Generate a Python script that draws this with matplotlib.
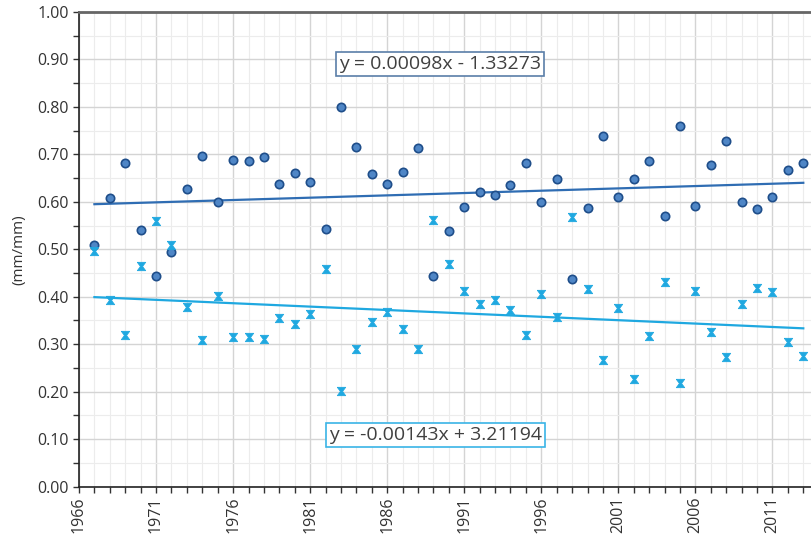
import numpy as np
import matplotlib
matplotlib.use('Agg')
import matplotlib.pyplot as plt
from matplotlib.ticker import MultipleLocator, FixedLocator, FormatStrFormatter

plt.rcParams['font.family'] = ['Open Sans', 'DejaVu Sans']

years = np.arange(1967, 2014)
# circles (dark blue series)
circle_vals = [0.508, 0.607, 0.681, 0.540, 0.443, 0.495, 0.626, 0.697, 0.600, 0.689,
               0.686, 0.694, 0.637, 0.660, 0.642, 0.543, 0.799, 0.716, 0.658, 0.637,
               0.663, 0.713, 0.443, 0.538, 0.590, 0.621, 0.614, 0.635, 0.682, 0.600,
               0.647, 0.438, 0.587, 0.739, 0.610, 0.647, 0.687, 0.571, 0.760, 0.592,
               0.677, 0.728, 0.600, 0.585, 0.610, 0.666, 0.681]
# hourglass markers (light blue series)
cross_vals = [0.497, 0.393, 0.320, 0.464, 0.559, 0.509, 0.378, 0.308, 0.402, 0.315,
              0.315, 0.311, 0.355, 0.342, 0.363, 0.459, 0.202, 0.289, 0.347, 0.367,
              0.332, 0.289, 0.561, 0.468, 0.412, 0.384, 0.392, 0.371, 0.320, 0.405,
              0.358, 0.568, 0.416, 0.266, 0.376, 0.227, 0.318, 0.431, 0.219, 0.412,
              0.326, 0.273, 0.384, 0.418, 0.410, 0.305, 0.276]

# labelled x ticks every 5 years from 1966
year_ticks = list(range(1966, 2014, 5))

# trend line coefficients as printed on the chart
trend1 = (0.00098, -1.33273)
trend2 = (-0.00143, 3.21194)
label1 = 'y = 0.00098x - 1.33273'
label2 = 'y = -0.00143x + 3.21194'

dark_blue = '#2f6db3'
light_blue = '#1fa8e0'

# hourglass shaped marker like the excel "x"
hourglass = [(-1, 1), (1, 1), (0.25, 0), (1, -1), (-1, -1), (-0.25, 0), (-1, 1)]

fig = plt.figure(figsize=(8.11, 5.37), dpi=100)
ax = fig.add_axes([0.0974, 0.094, 0.9026, 0.8837])

ax.set_xlim(1966, 2013.5)
ax.set_ylim(0, 1.0)

ax.xaxis.set_major_locator(FixedLocator(year_ticks))
ax.xaxis.set_minor_locator(MultipleLocator(1))
ax.yaxis.set_major_locator(MultipleLocator(0.1))
ax.yaxis.set_minor_locator(MultipleLocator(0.05))
ax.yaxis.set_major_formatter(FormatStrFormatter('%.2f'))

ax.grid(which='major', color='#d4d4d4', linewidth=1.0)
ax.grid(which='minor', color='#ececec', linewidth=0.8)
ax.set_axisbelow(True)

ax.tick_params(axis='both', which='both', direction='out', length=4, width=1,
               color='#333333', labelsize=11.5, labelcolor='#333333')
ax.tick_params(axis='x', which='major', labelrotation=90)

for side in ['left', 'bottom']:
    ax.spines[side].set_color('#222222')
    ax.spines[side].set_linewidth(1.2)
ax.spines['top'].set_color('#666666')
ax.spines['top'].set_linewidth(2)
ax.spines['right'].set_visible(False)

ax.set_ylabel('(mm/mm)', fontsize=11, color='#333333', labelpad=8)

ends = np.array([years[0], years[-1]])
ax.plot(ends, trend1[0] * ends + trend1[1], color=dark_blue, linewidth=1.6, zorder=2)
ax.plot(ends, trend2[0] * ends + trend2[1], color=light_blue, linewidth=1.6, zorder=2)

ax.plot(years, circle_vals, linestyle='none', marker='o', markersize=6,
        markerfacecolor='#4f86c6', markeredgecolor='#1f4e8a', markeredgewidth=1.2, zorder=3)
ax.plot(years, cross_vals, linestyle='none', marker=hourglass, markersize=6,
        markerfacecolor=light_blue, markeredgecolor=light_blue, markeredgewidth=0.6, zorder=3)

ax.text(1989.45, 0.891, label1, ha='center', va='center', fontsize=14, color='#404040',
        bbox=dict(boxstyle='square,pad=0.15', facecolor='white', edgecolor='#5a7ea8', linewidth=1.2),
        zorder=4)
ax.text(1989.15, 0.109, label2, ha='center', va='center', fontsize=14, color='#404040',
        bbox=dict(boxstyle='square,pad=0.15', facecolor='white', edgecolor='#3ab4e6', linewidth=1.2),
        zorder=4)

fig.savefig('out.png', dpi=100)
